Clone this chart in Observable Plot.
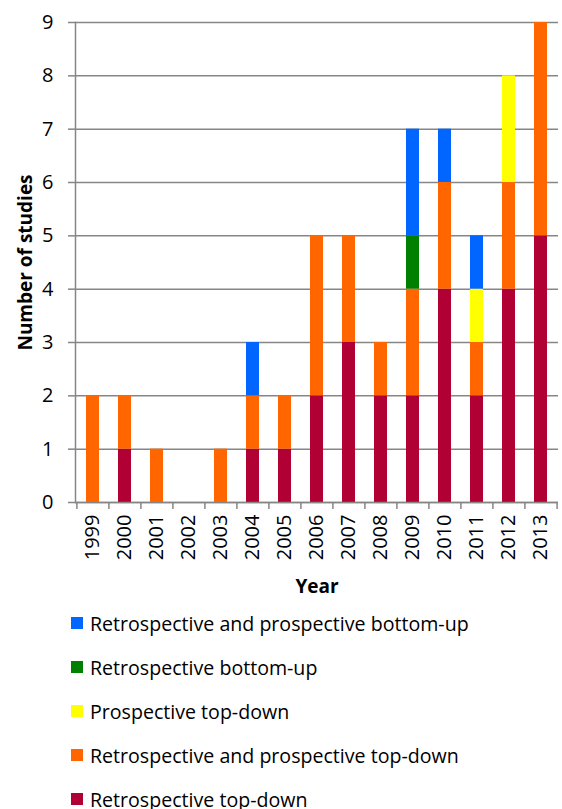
<!DOCTYPE html>
<html><head><meta charset="utf-8">
<script src="https://cdn.jsdelivr.net/npm/d3@7"></script>
<script src="https://cdn.jsdelivr.net/npm/@observablehq/plot@0.6"></script>
<style>
body{margin:0;background:#fff;font-family:"Open Sans",sans-serif;}
#chart svg{display:block;}
#legend{margin-left:71px;}
.row{display:flex;align-items:center;height:44px;font-size:19.6px;color:#000;}
.sw{width:12px;height:12px;margin-right:7px;}
</style></head>
<body><div id="chart"></div><div id="legend"></div>
<script>
const years = ["1999","2000","2001","2002","2003","2004","2005","2006","2007","2008","2009","2010","2011","2012","2013"];
const series = ["Retrospective top-down","Retrospective and prospective top-down","Prospective top-down","Retrospective bottom-up","Retrospective and prospective bottom-up"];
const colors = ["#b10034","#ff6600","#ffff00","#008000","#0066ff"];
const retroTopDown       = [0,1,0,0,0,1,1,2,3,2,2,4,2,4,5];
const retroProspTopDown  = [2,1,1,0,1,1,1,3,2,1,2,2,1,2,4];
const prospTopDown       = [0,0,0,0,0,0,0,0,0,0,0,0,1,2,0];
const retroBottomUp      = [0,0,0,0,0,0,0,0,0,0,1,0,0,0,0];
const retroProspBottomUp = [0,0,0,0,0,1,0,0,0,0,2,1,1,0,0];
const yTicks = [0,1,2,3,4,5,6,7,8,9];
const legendOrder = [4,3,2,1,0];

const valuesBySeries = [retroTopDown, retroProspTopDown, prospTopDown, retroBottomUp, retroProspBottomUp];
const data = [];
series.forEach((s, si) => years.forEach((y, yi) => data.push({year: y, series: s, value: valuesBySeries[si][yi]})));

const gray = "#868686";
const step = 483 / 15;
const chart = Plot.plot({
  width: 562, height: 601,
  marginLeft: 75, marginRight: 4, marginTop: 22, marginBottom: 99,
  style: {fontFamily: "Open Sans", fontSize: "20px", color: "#000", background: "#fff"},
  x: {domain: years, paddingInner: 0.6, paddingOuter: 0.3, label: null},
  y: {domain: [0, 9], label: null},
  color: {domain: series, range: colors},
  marks: [
    Plot.gridY(yTicks, {stroke: gray, strokeOpacity: 1, strokeWidth: 1.5}),
    Plot.axisY(yTicks, {tickSize: 7, tickPadding: 15, stroke: gray, strokeWidth: 1.5, fontSize: 20, tickFormat: d => d, label: null}),
    Plot.barY(data, {x: "year", y: "value", fill: "series", order: series}),
    Plot.frame({anchor: "left", stroke: gray, strokeWidth: 1.5}),
    Plot.ruleY([0], {stroke: gray, strokeWidth: 1.5}),
    Plot.axisX(years, {tickSize: 7, text: null, dx: -step / 2, stroke: gray, strokeWidth: 1.5, label: null}),
    Plot.axisX([years[years.length - 1]], {tickSize: 7, text: null, dx: step / 2, stroke: gray, strokeWidth: 1.5, label: null}),
    Plot.axisX(years, {tickSize: 0, tickPadding: 12, tickRotate: -90, fontSize: 20, label: null}),
    Plot.text(["Year"], {frameAnchor: "bottom", dy: 90, text: d => d, fontWeight: "bold", fontSize: 19}),
    Plot.text(["Number of studies"], {frameAnchor: "left", dx: -50, rotate: -90, textAnchor: "middle", text: d => d, fontWeight: "bold", fontSize: 19})
  ]
});
document.getElementById("chart").appendChild(chart);

const leg = document.getElementById("legend");
legendOrder.forEach(i => {
  const r = document.createElement("div"); r.className = "row";
  const sw = document.createElement("div"); sw.className = "sw"; sw.style.background = colors[i];
  const t = document.createElement("span"); t.textContent = series[i];
  r.appendChild(sw); r.appendChild(t); leg.appendChild(r);
});
</script></body></html>
